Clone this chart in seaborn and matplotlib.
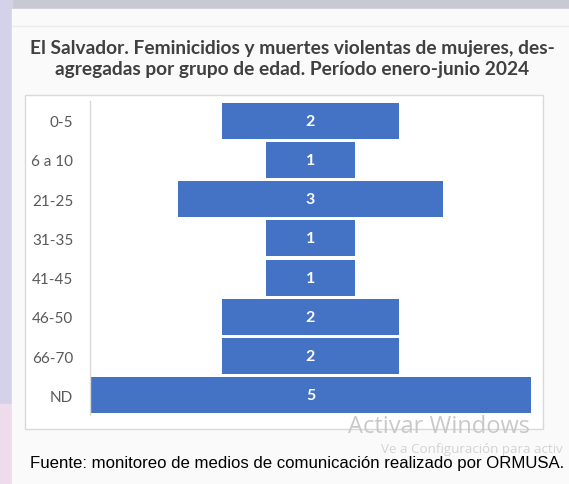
import numpy as np
import pandas as pd
import matplotlib.pyplot as plt
import matplotlib.patches as mpatches
import seaborn as sns

# Datos del grafico
grupos = ['0-5', '6 a 10', '21-25', '31-35', '41-45', '46-50', '66-70', 'ND']
casos = [2, 1, 3, 1, 1, 2, 2, 5]

titulo = ('El Salvador. Feminicidios y muertes violentas de mujeres, des-\n'
          'agregadas por grupo de edad. Período enero-junio 2024')
fuente = 'Fuente: monitoreo de medios de comunicación realizado por ORMUSA.'

df = pd.DataFrame({'Grupo': grupos, 'Casos': casos})

sns.set_style('white')
plt.rcParams['font.family'] = ['Lato', 'DejaVu Sans']

W, H = 569, 485
fig = plt.figure(figsize=(W / 100, H / 100), dpi=100)
fig.patch.set_facecolor('#c9c9d3')

def px(x0, y0, x1, y1):
    # rectangulo en pixeles -> coordenadas de figura
    return [x0 / W, 1 - y1 / H, (x1 - x0) / W, (y1 - y0) / H]

# fondo tipo captura de pantalla
fig.add_artist(mpatches.Rectangle((0, 0), 12 / W, 1, transform=fig.transFigure,
                                  color='#d4d2e8', zorder=0))
fig.add_artist(mpatches.Rectangle((0, 0), 12 / W, 80 / H, transform=fig.transFigure,
                                  color='#eedcec', zorder=0))
r = px(12, 10, 569, 485)
fig.add_artist(mpatches.Rectangle((r[0], r[1]), r[2], r[3], transform=fig.transFigure,
                                  color='#fafafa', zorder=0))
fig.add_artist(plt.Line2D([12 / W, 1], [1 - 27 / H] * 2, transform=fig.transFigure,
                          color='#ececec', lw=1))
b = px(25, 96, 543, 430)
fig.add_artist(mpatches.Rectangle((b[0], b[1]), b[2], b[3], transform=fig.transFigure,
                                  facecolor='white', edgecolor='#d9d9d9', lw=1, zorder=0))

ax = fig.add_axes(px(90, 102, 531, 416))
ax.set_facecolor('none')
sns.barplot(data=df, x='Casos', y='Grupo', orient='h', color='#4472c4',
            saturation=1, width=0.92, ax=ax)

# barras centradas (embudo)
for p in ax.patches:
    p.set_x(-p.get_width() / 2)
    p.set_edgecolor('none')

for i, v in enumerate(casos):
    ax.text(0, i, str(v), ha='center', va='center', color='white',
            fontsize=11.5, fontweight='bold')

ax.set_xlim(-2.5, 2.5)
ax.set_ylim(len(grupos) - 0.5, -0.5)
ax.set_xlabel('')
ax.set_ylabel('')
ax.set_xticks([])
ax.tick_params(axis='y', length=0, pad=12, labelsize=11, labelcolor='#595959')
for s in ['top', 'right', 'bottom']:
    ax.spines[s].set_visible(False)
ax.spines['left'].set_color('#d9d9d9')
ax.spines['left'].set_linewidth(1)

fig.text(292 / W, 1 - 59 / H, titulo, ha='center', va='center', fontsize=13.8,
         fontweight='bold', color='#404040', linespacing=1.35)

fig.text(30 / W, 1 - 464 / H, fuente, ha='left', va='center', fontsize=12.1,
         family=['Liberation Sans Narrow', 'Liberation Sans'], color='black')

fig.text(348 / W, 1 - 427 / H, 'Activar Windows', ha='left', va='center',
         fontsize=17, family=['Open Sans'], color='#c4c4c4', alpha=0.9)
fig.text(381 / W, 1 - 450 / H, 'Ve a Configuración para activ', ha='left',
         va='center', fontsize=9.6, family=['Open Sans'], color='#cfcfcf',
         alpha=0.9, zorder=0)

fig.savefig('out.png', dpi=100)
